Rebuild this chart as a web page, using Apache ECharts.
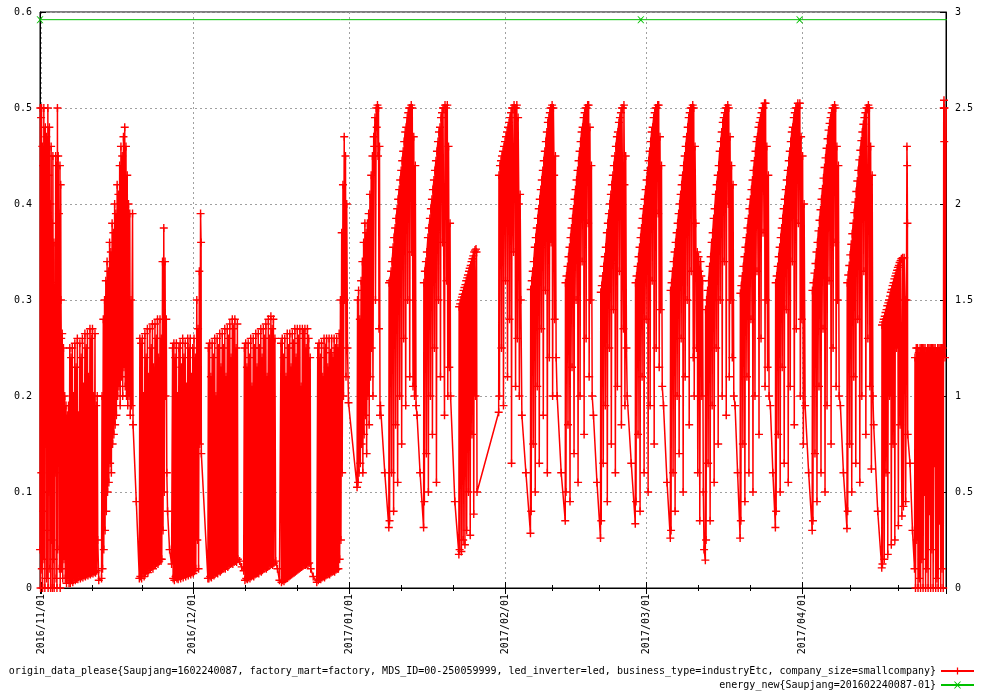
<!DOCTYPE html>
<html>
<head>
<meta charset="utf-8">
<script src="https://cdn.jsdelivr.net/npm/echarts@6/dist/echarts.min.js"></script>
<style>
html, body { margin: 0; padding: 0; background: #fff; }
#chart { width: 1000px; height: 700px; }
</style>
</head>
<body>
<div id="chart"></div>
<script>
var DAY = 86400000;
var t0 = Date.UTC(2016, 10, 1);
var xMinDay = -0.31, xMaxDay = 179.45;

var originName = 'origin_data_please{Saupjang=1602240087, factory_mart=factory, MDS_ID=00-250059999, led_inverter=led, business_type=industryEtc, company_size=smallcompany}';
var energyName = 'energy_new{Saupjang=201602240087-01}';

// red series, [day since 2016/11/01, value] pairs
var novA = [-0.3,.04, -0.25,.5, -0.2,0, -0.1,.49, -0.05,.12, 0,.5, .05,.02, .15,.46, .2,0, .3,.44, .35,.08, .45,.5, .5,.03, .6,.42, .65,0, .75,.48, .85,.15, .95,.47, 1,.01, 1.1,.45, 1.15,.06, 1.25,.5, 1.3,0, 1.4,.43, 1.45,.1, 1.55,.48, 1.65,.02, 1.75,.4, 1.8,0, 1.9,.46, 2,.05, 2.1,.38, 2.15,0, 2.25,.45, 2.35,.03, 2.45,.36, 2.5,0, 2.6,.3, 2.7,.12, 2.8,.45, 2.9,.01, 3,.44, 3.05,0, 3.15,.5, 3.2,.04, 3.3,.45, 3.4,.2, 3.45,.39, 3.55,.02, 3.65,.44, 3.7,0, 3.8,.42, 3.85,.3];
var novB = [3.9,.26, 4,.02, 4.1,.265, 4.2,.01, 4.35,.25, 4.45,.03, 4.6,.2, 4.7,.01, 4.85,.19, 4.95,.005, 5.1,.18, 5.2,.01, 5.35,.19, 5.45,.005];
var novC = [5.6,.25, 5.7,.005, 5.85,.24, 5.95,.008, 6.1,.25, 6.2,.006, 6.35,.2, 6.45,.01, 6.6,.255, 6.7,.008, 6.85,.23, 6.95,.01, 7.1,.26, 7.2,.009, 7.35,.18, 7.45,.012, 7.6,.255, 7.7,.01, 7.85,.24, 7.95,.012, 8.1,.26, 8.2,.011, 8.35,.21, 8.45,.013, 8.6,.265, 8.7,.012, 8.85,.25, 8.95,.014, 9.1,.265, 9.2,.013, 9.35,.22, 9.45,.015, 9.6,.27, 9.7,.014, 9.85,.26, 9.95,.016, 10.1,.27, 10.2,.015, 10.35,.2, 10.45,.017, 10.6,.265, 10.7,.016, 10.85,.19, 10.95,.018, 11.05,.2, 11.15,.05, 11.35,.008];
var novD = [11.9,.01, 12,.2, 12.1,.02, 12.25,.28, 12.35,.04, 12.5,.3, 12.6,.06, 12.75,.32, 12.85,.08, 13,.34, 13.1,.1, 13.25,.33, 13.35,.11, 13.5,.36, 13.6,.13, 13.75,.35, 13.85,.12, 14,.38, 14.1,.15, 14.25,.37, 14.35,.16, 14.5,.4, 14.6,.17, 14.75,.39, 14.85,.18, 15,.42, 15.1,.2, 15.25,.41, 15.35,.21, 15.5,.44, 15.6,.19, 15.75,.46, 15.85,.22, 16,.45, 16.1,.2, 16.25,.47, 16.35,.23, 16.5,.48, 16.6,.21, 16.75,.46, 16.85,.2, 17,.43, 17.1,.19, 17.25,.4, 17.35,.2, 17.5,.39, 17.6,.18, 17.75,.3, 17.85,.19, 18.05,.39, 18.15,.17, 18.8,.09, 19.4,.01];
var novE = [19.5,.26, 19.6,.012, 19.75,.255, 19.85,.01, 20,.26, 20.1,.015, 20.25,.2, 20.35,.012, 20.5,.265, 20.6,.015, 20.75,.24, 20.85,.018, 21,.27, 21.1,.016, 21.25,.22, 21.35,.02, 21.5,.27, 21.6,.02, 21.75,.25, 21.85,.022, 22,.275, 22.1,.02, 22.25,.23, 22.35,.025, 22.5,.275, 22.6,.024, 22.75,.26, 22.85,.026, 23,.28, 23.1,.025, 23.25,.24, 23.35,.028, 23.5,.28, 23.6,.03, 23.75,.26, 23.85,.03, 24,.34, 24.1,.06, 24.25,.375, 24.35,.1, 24.5,.34, 24.6,.2, 24.75,.28, 24.85,.12, 25,.08, 25.4,.04, 25.8,.025];
var novF = [26,.25, 26.1,.01, 26.25,.255, 26.35,.008, 26.5,.24, 26.6,.012, 26.75,.255, 26.85,.01, 27,.2, 27.1,.009, 27.25,.25, 27.35,.012, 27.5,.255, 27.6,.01, 27.75,.23, 27.85,.013, 28,.26, 28.1,.011, 28.25,.24, 28.35,.014, 28.5,.255, 28.6,.012, 28.75,.21, 28.85,.015, 29,.26, 29.1,.013, 29.25,.25, 29.35,.016, 29.5,.26, 29.6,.014, 29.75,.22, 29.85,.017, 30,.25, 30.1,.015, 30.25,.26, 30.35,.018, 30.5,.24, 30.6,.02, 30.8,.3, 30.9,.05, 31.05,.27, 31.15,.02, 31.3,.33, 31.4,.15, 31.55,.39, 31.65,.36, 31.7,.14];
var decA = [33,.01, 33.1,.25, 33.2,.01, 33.35,.255, 33.45,.012, 33.6,.22, 33.7,.011, 33.85,.255, 33.95,.014, 34.1,.24, 34.2,.013, 34.35,.26, 34.45,.015, 34.6,.2, 34.7,.016, 34.85,.26, 34.95,.015, 35.1,.25, 35.2,.018, 35.35,.265, 35.45,.017, 35.6,.23, 35.7,.019, 35.85,.265, 35.95,.02, 36.1,.25, 36.2,.021, 36.35,.27, 36.45,.02, 36.6,.22, 36.7,.023, 36.85,.27, 36.95,.022, 37.1,.26, 37.2,.024, 37.35,.275, 37.45,.025, 37.6,.24, 37.7,.026, 37.85,.28, 37.95,.025, 38.1,.27, 38.2,.027, 38.35,.28, 38.45,.028, 38.6,.25, 38.7,.027, 38.85,.275, 38.95,.03, 39.3,.028, 39.7,.022, 40.1,.018];
var decB = [40.25,.25, 40.35,.008, 40.5,.255, 40.6,.01, 40.75,.23, 40.85,.009, 41,.255, 41.1,.011, 41.25,.24, 41.35,.01, 41.5,.26, 41.6,.012, 41.75,.21, 41.85,.013, 42,.26, 42.1,.012, 42.25,.25, 42.35,.014, 42.5,.265, 42.6,.015, 42.75,.23, 42.85,.016, 43,.265, 43.1,.015, 43.25,.25, 43.35,.018, 43.5,.27, 43.6,.017, 43.75,.24, 43.85,.019, 44,.27, 44.1,.02, 44.25,.26, 44.35,.021, 44.5,.275, 44.6,.02, 44.75,.22, 44.85,.022, 45,.28, 45.1,.023, 45.25,.26, 45.35,.024, 45.5,.283, 45.6,.025, 45.75,.27, 45.85,.024, 46,.28, 46.1,.026, 46.3,.26, 46.45,.028, 46.8,.02, 47.2,.008];
var decC = [47.5,.255, 47.6,.006, 47.75,.26, 47.85,.008, 48,.24, 48.1,.007, 48.25,.26, 48.35,.009, 48.5,.22, 48.6,.01, 48.75,.265, 48.85,.011, 49,.25, 49.1,.012, 49.25,.265, 49.35,.013, 49.5,.23, 49.6,.014, 49.75,.265, 49.85,.015, 50,.255, 50.1,.016, 50.25,.27, 50.35,.017, 50.5,.24, 50.6,.018, 50.75,.27, 50.85,.019, 51,.26, 51.1,.02, 51.25,.27, 51.35,.021, 51.5,.21, 51.6,.022, 51.75,.27, 51.85,.023, 52,.265, 52.1,.024, 52.25,.27, 52.35,.024, 52.5,.25, 52.6,.025, 52.75,.27, 52.85,.025, 53,.26, 53.1,.026, 53.3,.24, 53.4,.02, 53.9,.012, 54.6,.006];
var decD = [54.8,.25, 54.9,.008, 55.05,.255, 55.15,.01, 55.3,.24, 55.4,.009, 55.55,.255, 55.65,.011, 55.8,.22, 55.9,.012, 56.05,.26, 56.15,.011, 56.3,.25, 56.4,.013, 56.55,.26, 56.65,.014, 56.8,.23, 56.9,.015, 57.05,.26, 57.15,.014, 57.3,.245, 57.4,.016, 57.55,.26, 57.65,.017, 57.8,.24, 57.9,.018, 58.05,.26, 58.15,.017, 58.3,.25, 58.4,.019, 58.55,.26, 58.65,.02, 58.8,.25, 58.9,.02, 59.05,.265, 59.15,.03, 59.3,.3, 59.4,.05, 59.55,.37, 59.65,.12, 59.8,.42, 59.9,.2, 60.05,.47, 60.15,.3, 60.3,.45, 60.4,.22, 60.55,.4, 60.7,.25, 60.9,.193];
var ramp1 = [62.6,.105, 62.7,.3, 62.8,.11, 62.9,.31, 63,.12, 63.15,.28, 63.25,.13, 63.4,.32, 63.5,.15, 63.65,.34, 63.75,.12, 63.9,.36, 64,.16, 64.15,.38, 64.25,.18, 64.4,.37, 64.5,.14, 64.65,.38, 64.75,.2, 64.9,.39, 65,.17, 65.15,.41, 65.25,.22, 65.4,.43, 65.5,.25, 65.65,.45, 65.75,.2, 65.9,.47, 66,.46, 66.15,.49, 66.25,.3, 66.4,.5, 66.5,.48, 66.65,.503, 66.75,.45, 66.85,.5, 66.95,.27, 67.05,.46, 67.15,.18, 67.25,.19, 68.1,.12, 68.9,.063];
var ramp2 = [68.95,.318, 69.05,.07, 69.15,.32, 69.35,.33, 69.45,.12, 69.55,.34, 69.75,.355, 69.85,.08, 69.95,.365, 70.15,.375, 70.25,.17, 70.35,.385, 70.55,.395, 70.65,.11, 70.75,.405, 70.95,.415, 71.05,.2, 71.15,.425, 71.35,.435, 71.45,.15, 71.55,.445, 71.75,.455, 71.85,.26, 71.95,.465, 72.15,.475, 72.25,.19, 72.35,.48, 72.55,.49, 72.65,.3, 72.75,.495, 72.95,.5, 73.05,.22, 73.15,.5, 73.35,.503, 73.45,.35, 73.55,.5, 73.7,.21, 73.85,.47, 74,.2, 74.15,.44, 74.3,.19, 74.5,.18, 75.1,.12, 75.8,.063];
var ramp3 = [75.85,.318, 75.95,.09, 76.05,.33, 76.25,.34, 76.35,.14, 76.45,.35, 76.65,.365, 76.75,.1, 76.85,.375, 77.05,.385, 77.15,.2, 77.25,.395, 77.45,.405, 77.55,.16, 77.65,.415, 77.85,.425, 77.95,.25, 78.05,.435, 78.25,.445, 78.35,.11, 78.45,.455, 78.65,.465, 78.75,.3, 78.85,.475, 79.05,.48, 79.15,.22, 79.25,.49, 79.45,.495, 79.55,.36, 79.65,.5, 79.85,.5, 79.95,.18, 80.05,.503, 80.25,.5, 80.35,.32, 80.5,.503, 80.6,.2, 80.75,.46, 80.9,.23, 81.05,.38, 81.15,.2, 82,.09, 82.8,.035];
var ramp4 = [82.85,.293, 82.95,.04, 83.05,.296, 83.2,.3, 83.3,.038, 83.4,.303, 83.55,.306, 83.65,.05, 83.75,.31, 83.9,.313, 84,.045, 84.1,.316, 84.25,.32, 84.35,.06, 84.45,.323, 84.6,.326, 84.7,.1, 84.8,.33, 84.95,.333, 85.05,.055, 85.15,.336, 85.3,.34, 85.4,.16, 85.5,.343, 85.65,.346, 85.75,.077, 85.85,.35, 86,.352, 86.1,.2, 86.2,.353, 86.3,.35, 86.4,.1, 90.7,.183];
var ramp5 = [90.75,.43, 90.85,.2, 90.95,.44, 91.15,.445, 91.25,.25, 91.35,.45, 91.55,.455, 91.65,.19, 91.75,.46, 91.95,.465, 92.05,.32, 92.15,.47, 92.35,.475, 92.45,.22, 92.55,.48, 92.75,.485, 92.85,.28, 92.95,.49, 93.15,.495, 93.25,.13, 93.35,.5, 93.55,.5, 93.65,.35, 93.75,.503, 93.95,.5, 94.05,.21, 94.15,.5, 94.3,.503, 94.4,.26, 94.55,.49, 94.7,.4, 94.8,.2, 94.95,.41, 95.1,.3, 95.3,.18, 96.1,.12, 97,.057];
var ramp6 = [97.05,.311, 97.15,.08, 97.25,.32, 97.45,.33, 97.55,.15, 97.65,.34, 97.85,.355, 97.95,.1, 98.05,.365, 98.25,.375, 98.35,.21, 98.45,.385, 98.65,.395, 98.75,.13, 98.85,.405, 99.05,.415, 99.15,.27, 99.25,.425, 99.45,.435, 99.55,.18, 99.65,.445, 99.85,.455, 99.95,.31, 100.05,.465, 100.25,.475, 100.35,.12, 100.45,.485, 100.65,.49, 100.75,.24, 100.85,.495, 101,.5, 101.1,.36, 101.2,.5, 101.3,.503, 101.4,.2, 101.55,.5, 101.7,.43, 101.8,.28, 101.95,.45, 102.1,.24, 102.3,.2, 103.1,.12, 103.9,.07];
var ramp7 = [103.95,.318, 104.05,.1, 104.15,.325, 104.35,.335, 104.45,.17, 104.55,.345, 104.75,.355, 104.85,.09, 104.95,.365, 105.15,.375, 105.25,.23, 105.35,.385, 105.55,.395, 105.65,.14, 105.75,.405, 105.95,.415, 106.05,.3, 106.15,.425, 106.35,.435, 106.45,.11, 106.55,.445, 106.75,.455, 106.85,.2, 106.95,.465, 107.15,.475, 107.25,.34, 107.35,.48, 107.55,.49, 107.65,.16, 107.75,.495, 107.95,.5, 108.05,.26, 108.15,.5, 108.35,.503, 108.45,.38, 108.55,.503, 108.65,.22, 108.8,.48, 108.95,.3, 109.1,.44, 109.25,.2, 109.5,.18, 110.2,.11, 110.9,.052];
var ramp8 = [110.95,.308, 111.05,.07, 111.15,.315, 111.35,.325, 111.45,.13, 111.55,.335, 111.75,.345, 111.85,.19, 111.95,.355, 112.15,.37, 112.25,.09, 112.35,.38, 112.55,.39, 112.65,.25, 112.75,.4, 112.95,.41, 113.05,.15, 113.15,.42, 113.35,.43, 113.45,.29, 113.55,.44, 113.75,.45, 113.85,.12, 113.95,.46, 114.15,.47, 114.25,.21, 114.35,.475, 114.55,.485, 114.65,.33, 114.75,.49, 114.95,.495, 115.05,.17, 115.15,.5, 115.35,.5, 115.45,.27, 115.55,.503, 115.65,.42, 115.75,.19, 115.9,.45, 116.05,.25, 116.2,.2, 117,.13, 117.8,.067];
var ramp9 = [117.85,.318, 117.95,.09, 118.05,.325, 118.25,.335, 118.35,.16, 118.45,.345, 118.65,.355, 118.75,.08, 118.85,.365, 119.05,.375, 119.15,.22, 119.25,.385, 119.45,.395, 119.55,.12, 119.65,.405, 119.85,.415, 119.95,.28, 120.05,.425, 120.25,.435, 120.35,.1, 120.45,.445, 120.65,.455, 120.75,.19, 120.85,.465, 121.05,.475, 121.15,.32, 121.25,.48, 121.45,.49, 121.55,.15, 121.65,.495, 121.85,.5, 121.95,.25, 122.05,.5, 122.25,.503, 122.35,.39, 122.45,.503, 122.55,.23, 122.7,.47, 122.85,.29, 123,.44, 123.15,.21, 123.4,.19, 124.1,.11, 124.75,.052];
var ramp10 = [124.8,.31, 124.9,.06, 125,.318, 125.2,.33, 125.3,.12, 125.4,.34, 125.6,.35, 125.7,.08, 125.8,.36, 126,.37, 126.1,.2, 126.2,.38, 126.4,.39, 126.5,.14, 126.6,.4, 126.8,.41, 126.9,.26, 127,.42, 127.2,.43, 127.3,.1, 127.4,.44, 127.6,.45, 127.7,.22, 127.8,.46, 128,.47, 128.1,.3, 128.2,.48, 128.4,.49, 128.5,.17, 128.6,.495, 128.8,.5, 128.9,.33, 129,.5, 129.2,.503, 129.3,.24, 129.4,.5, 129.5,.2, 129.65,.46, 129.8,.38, 129.95,.25, 130.1,.35, 130.2,.12, 130.35,.345, 130.5,.33, 130.6,.07, 130.75,.34, 130.9,.325, 131,.2, 131.15,.32, 131.3,.1, 131.45,.04, 131.7,.029];
var ramp11 = [131.75,.29, 131.85,.05, 131.95,.3, 132.15,.31, 132.25,.13, 132.35,.32, 132.55,.335, 132.65,.07, 132.75,.345, 132.95,.36, 133.05,.19, 133.15,.37, 133.35,.385, 133.45,.11, 133.55,.395, 133.75,.41, 133.85,.25, 133.95,.42, 134.15,.43, 134.25,.15, 134.35,.44, 134.55,.455, 134.65,.3, 134.75,.465, 134.95,.475, 135.05,.2, 135.15,.485, 135.35,.49, 135.45,.34, 135.55,.495, 135.75,.5, 135.85,.18, 135.95,.5, 136.15,.503, 136.25,.4, 136.35,.5, 136.45,.22, 136.6,.47, 136.75,.3, 136.9,.44, 137.05,.24, 137.2,.42, 137.35,.2, 137.6,.19, 138.1,.12, 138.6,.052];
var ramp12 = [138.65,.307, 138.75,.07, 138.85,.315, 139.05,.325, 139.15,.15, 139.25,.335, 139.45,.345, 139.55,.09, 139.65,.355, 139.85,.365, 139.95,.22, 140.05,.375, 140.25,.385, 140.35,.12, 140.45,.395, 140.65,.405, 140.75,.28, 140.85,.415, 141.05,.425, 141.15,.1, 141.25,.435, 141.45,.445, 141.55,.2, 141.65,.455, 141.85,.465, 141.95,.33, 142.05,.47, 142.25,.48, 142.35,.16, 142.45,.485, 142.65,.49, 142.75,.26, 142.85,.495, 143.05,.5, 143.15,.37, 143.25,.5, 143.45,.505, 143.55,.21, 143.65,.505, 143.75,.3, 143.9,.46, 144.05,.23, 144.2,.43, 144.35,.2, 144.6,.19, 145.1,.12, 145.6,.063];
var ramp13 = [145.65,.318, 145.75,.08, 145.85,.325, 146.05,.335, 146.15,.16, 146.25,.345, 146.45,.355, 146.55,.1, 146.65,.365, 146.85,.375, 146.95,.23, 147.05,.385, 147.25,.395, 147.35,.13, 147.45,.405, 147.65,.415, 147.75,.29, 147.85,.425, 148.05,.435, 148.15,.11, 148.25,.445, 148.45,.455, 148.55,.21, 148.65,.465, 148.85,.475, 148.95,.34, 149.05,.48, 149.25,.49, 149.35,.17, 149.45,.495, 149.65,.5, 149.75,.27, 149.85,.5, 150.05,.505, 150.15,.38, 150.25,.5, 150.45,.505, 150.55,.2, 150.7,.47, 150.85,.28, 151,.45, 151.15,.15, 151.3,.4, 151.5,.19, 152.2,.12, 152.9,.06];
var ramp14 = [152.95,.31, 153.05,.07, 153.15,.318, 153.35,.328, 153.45,.14, 153.55,.338, 153.75,.35, 153.85,.09, 153.95,.36, 154.15,.372, 154.25,.21, 154.35,.383, 154.55,.394, 154.65,.12, 154.75,.405, 154.95,.416, 155.05,.27, 155.15,.427, 155.35,.438, 155.45,.1, 155.55,.448, 155.75,.458, 155.85,.19, 155.95,.468, 156.15,.477, 156.25,.32, 156.35,.484, 156.55,.49, 156.65,.15, 156.75,.495, 156.95,.5, 157.05,.25, 157.15,.5, 157.35,.503, 157.45,.36, 157.55,.5, 157.65,.21, 157.8,.46, 157.95,.3, 158.1,.44, 158.25,.2, 158.5,.19, 159.1,.12, 159.8,.062];
var ramp15 = [159.85,.318, 159.95,.08, 160.05,.326, 160.25,.336, 160.35,.15, 160.45,.347, 160.65,.358, 160.75,.1, 160.85,.369, 161.05,.38, 161.15,.22, 161.25,.391, 161.45,.402, 161.55,.13, 161.65,.413, 161.85,.424, 161.95,.28, 162.05,.435, 162.25,.446, 162.35,.11, 162.45,.456, 162.65,.466, 162.75,.2, 162.85,.475, 163.05,.483, 163.15,.33, 163.25,.49, 163.45,.495, 163.55,.16, 163.65,.5, 163.85,.5, 163.95,.26, 164.05,.503, 164.15,.42, 164.25,.5, 164.35,.21, 164.5,.46, 164.65,.124, 164.8,.43, 164.95,.2, 165.1,.17, 165.9,.08, 166.7,.021];
var ramp16 = [166.75,.274, 166.85,.025, 166.95,.277, 167.1,.28, 167.2,.03, 167.3,.283, 167.45,.287, 167.55,.12, 167.65,.29, 167.8,.294, 167.9,.035, 168,.297, 168.15,.3, 168.25,.2, 168.35,.304, 168.5,.308, 168.6,.045, 168.7,.311, 168.85,.315, 168.95,.15, 169.05,.318, 169.2,.322, 169.3,.05, 169.4,.325, 169.55,.328, 169.65,.25, 169.75,.331, 169.9,.334, 170,.065, 170.1,.336, 170.25,.339, 170.35,.17, 170.45,.341, 170.6,.343, 170.7,.075, 170.85,.344, 171,.085, 171.15,.344, 171.3,.3, 171.45,.09, 171.6,.3, 171.7,.46, 171.75,.44, 171.8,.38, 171.85,.16, 172.3,.13, 172.8,.06, 173.2,.02];
var lastBlock = [173.3,.24, 173.4,0, 173.55,.25, 173.65,.05, 173.8,.25, 173.9,0, 174.05,.245, 174.15,.01, 174.3,.25, 174.4,0, 174.55,.25, 174.65,.03, 174.8,.25, 174.9,0, 175.05,.25, 175.15,.1, 175.3,.25, 175.4,0, 175.55,.245, 175.65,.02, 175.8,.25, 175.9,0, 176.05,.25, 176.15,.08, 176.3,.25, 176.4,0, 176.55,.25, 176.65,.04, 176.8,.25, 176.9,0, 177.05,.25, 177.15,.13, 177.3,.25, 177.4,0, 177.55,.245, 177.65,.01, 177.8,.25, 177.9,0, 178.05,.25, 178.15,.07, 178.3,.25, 178.4,0, 178.55,.25, 178.65,.02, 178.8,.25, 178.9,0, 179,.5, 179.05,.508, 179.1,.465, 179.15,.5, 179.25,.24, 179.5,.5];

// green series (right axis)
var energyDays = [-0.31, 118.9, 150.4, 186];
var energyVals = [2.96, 2.96, 2.96, 2.96];

var segments = [novA, novB, novC, novD, novE, novF, decA, decB, decC, decD,
	ramp1, ramp2, ramp3, ramp4, ramp5, ramp6, ramp7, ramp8, ramp9, ramp10,
	ramp11, ramp12, ramp13, ramp14, ramp15, ramp16, lastBlock];

var redData = [];
segments.forEach(function(seg){
	for(var i=0; i<seg.length; i+=2){
		redData.push([t0 + seg[i]*DAY, seg[i+1]]);
	}
});
var greenData = [];
for(var i=0; i<energyDays.length; i++){
	greenData.push([t0 + energyDays[i]*DAY, energyVals[i]]);
}

var FONT = 'DejaVu Sans Mono';
// plus and cross markers as thin filled paths
var plusSym = 'path://M3.3,0H4.7V3.3H8V4.7H4.7V8H3.3V4.7H0V3.3H3.3Z';
var crossSym = 'path://M0,0H1L3.5,2.5L6,0H7L4,3.5L7,7H6L3.5,4.5L1,7H0L3,3.5Z';
var gridLine = {show: true, lineStyle: {color: '#a0a0a0', type: [2, 3], width: 1}};

function pad(n){ return n < 10 ? '0' + n : '' + n; }
function fmtDate(v){
	var d = new Date(v);
	if(d.getUTCDate() !== 1 || d.getUTCHours() !== 0 || d.getUTCMinutes() !== 0) return '';
	return d.getUTCFullYear() + '/' + pad(d.getUTCMonth() + 1) + '/01';
}

var xBase = {
	type: 'time',
	min: t0 + xMinDay*DAY,
	max: t0 + xMaxDay*DAY,
	axisLine: {show: true, lineStyle: {color: '#000', width: 1}},
	axisTick: {show: true, inside: true, length: 6, lineStyle: {color: '#000'}},
	minorTick: {show: true, splitNumber: 3, length: 3, lineStyle: {color: '#000'}}
};

var chart = echarts.init(document.getElementById('chart'));
var options = {
	animation: false,
	useUTC: true,
	backgroundColor: '#fff',
	grid: {left: 40, right: 54, top: 12, bottom: 112, show: true, borderColor: '#000', borderWidth: 1, containLabel: false, outerBoundsMode: 'none'},
	legend: [
		{data: [originName], right: 25, top: 666, align: 'right', padding: 0, itemWidth: 33, itemHeight: 9, selectedMode: false,
			textStyle: {fontFamily: FONT, fontSize: 10, color: '#000'}},
		{data: [energyName], right: 25, top: 680, align: 'right', padding: 0, itemWidth: 33, itemHeight: 9, selectedMode: false,
			textStyle: {fontFamily: FONT, fontSize: 10, color: '#000'}}
	],
	xAxis: [
		Object.assign({}, xBase, {
			position: 'bottom',
			splitLine: gridLine,
			axisLabel: {show: true, rotate: 90, margin: 6, formatter: fmtDate, hideOverlap: false,
				showMinLabel: true, showMaxLabel: true, fontFamily: FONT, fontSize: 10, color: '#000'}
		}),
		Object.assign({}, xBase, {
			position: 'top',
			splitLine: {show: false},
			axisLabel: {show: false}
		})
	],
	yAxis: [
		{type: 'value', position: 'left', min: 0, max: 0.6, interval: 0.1,
			axisLine: {show: true, lineStyle: {color: '#000'}},
			axisTick: {show: true, inside: true, length: 6, lineStyle: {color: '#000'}},
			splitLine: gridLine,
			axisLabel: {margin: 8, fontFamily: FONT, fontSize: 10, color: '#000'}},
		{type: 'value', position: 'right', min: 0, max: 3, interval: 0.5,
			axisLine: {show: true, lineStyle: {color: '#000'}},
			axisTick: {show: true, inside: true, length: 6, lineStyle: {color: '#000'}},
			splitLine: {show: false},
			axisLabel: {margin: 9, fontFamily: FONT, fontSize: 10, color: '#000'}}
	],
	series: [
		{name: originName, type: 'line', xAxisIndex: 0, yAxisIndex: 0, data: redData,
			symbol: plusSym, symbolSize: 8, showSymbol: true, clip: true,
			lineStyle: {color: '#ff0000', width: 1.5},
			itemStyle: {color: '#ff0000', borderWidth: 0},
			emphasis: {disabled: true}},
		{name: energyName, type: 'line', xAxisIndex: 0, yAxisIndex: 1, data: greenData,
			symbol: crossSym, symbolSize: 7, showSymbol: true, clip: true,
			lineStyle: {color: '#00c000', width: 1},
			itemStyle: {color: '#00c000', borderWidth: 0},
			emphasis: {disabled: true}}
	]
};
chart.setOption(options);
</script>
</body>
</html>
